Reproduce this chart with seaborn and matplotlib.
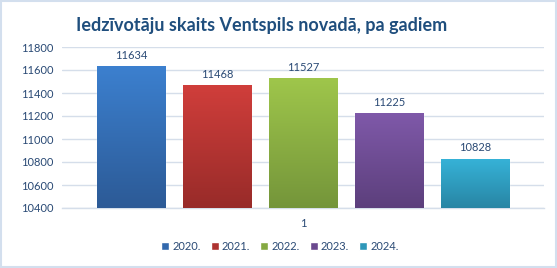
import matplotlib
matplotlib.use("Agg")
import matplotlib.pyplot as plt
import matplotlib.colors as mcolors
import numpy as np
import pandas as pd
import seaborn as sns
from matplotlib.patches import Rectangle

years = ["2020.", "2021.", "2022.", "2023.", "2024."]
values = [11634, 11468, 11527, 11225, 10828]
category = ["1"] * 5
top_colors = ["#3C80CF", "#D03E3B", "#9FC64B", "#7F59A9", "#36B3D8"]
bottom_colors = ["#2C5A96", "#982B29", "#74953A", "#5C3F7C", "#2885A4"]
title = "Iedzīvotāju skaits Ventspils novadā, pa gadiem"

df = pd.DataFrame({"cat": category, "year": years, "value": values})

sns.set_theme(style="white")
plt.rcParams["font.family"] = ["Lato", "DejaVu Sans"]
text_col = "#2A4A75"

fig = plt.figure(figsize=(5.57, 2.68), dpi=100)
ax = fig.add_axes([62/557, 1-208/268, 482/557, 161/268])

mid_colors = [mcolors.to_hex((np.array(mcolors.to_rgb(t)) + np.array(mcolors.to_rgb(b))) / 2)
              for t, b in zip(top_colors, bottom_colors)]
sns.barplot(data=df, x="cat", y="value", hue="year", palette=mid_colors,
            width=0.892, gap=0.2, ax=ax, legend=True, zorder=3)

ax.set_ylim(10400, 11800)
ax.set_yticks(np.arange(10400, 11801, 200))
ax.set_xlim(-0.5, 0.5)
ax.grid(axis="y", color="#D5DEEA", lw=1, zorder=0)
ax.set_axisbelow(True)
for s in ["top", "right", "left"]:
    ax.spines[s].set_visible(False)
ax.spines["bottom"].set_color("#D5DEEA")
ax.spines["bottom"].set_linewidth(1)
ax.set_xlabel("")
ax.set_ylabel("")
ax.tick_params(axis="both", length=0, labelsize=8, colors=text_col, pad=6)
ax.tick_params(axis="x", pad=7)

# gradient fills
for i, cont in enumerate(ax.containers):
    cmap = mcolors.LinearSegmentedColormap.from_list("g", [bottom_colors[i], top_colors[i]])
    for bar in cont:
        x0, y0 = bar.get_x(), bar.get_y()
        w, h = bar.get_width(), bar.get_height()
        grad = np.linspace(0, 1, 256).reshape(-1, 1)
        im = ax.imshow(grad, extent=[x0, x0 + w, 10400, y0 + h], origin="lower",
                       cmap=cmap, aspect="auto", zorder=3.5)
        im.set_clip_path(bar)
    ax.bar_label(cont, labels=[str(v) for v in [values[i]]], padding=4,
                 fontsize=8, color=text_col)
ax.set_xlim(-0.5, 0.5)
ax.set_ylim(10400, 11800)

# legend
handles = [Rectangle((0, 0), 1, 1, facecolor=mcolors.to_hex(
    (np.array(mcolors.to_rgb(t)) * 0.4 + np.array(mcolors.to_rgb(b)) * 0.6)))
    for t, b in zip(top_colors, bottom_colors)]
ax.legend_.remove()
fig.legend(handles, years, loc="center", bbox_to_anchor=(280/557, 1-246/268),
           ncol=5, frameon=False, fontsize=8, handlelength=0.7, handleheight=0.7,
           handletextpad=0.3, columnspacing=0.9, labelcolor=text_col)

fig.text(262/557, 1-25/268, title, ha="center", va="center", fontsize=13,
         fontweight="bold", color="#1F4E7D")

fig.add_artist(Rectangle((0.002, 0.004), 0.996, 0.992, transform=fig.transFigure,
                         fill=False, edgecolor="#D3DFEE", lw=1.5))

fig.savefig("out.png", dpi=100)
